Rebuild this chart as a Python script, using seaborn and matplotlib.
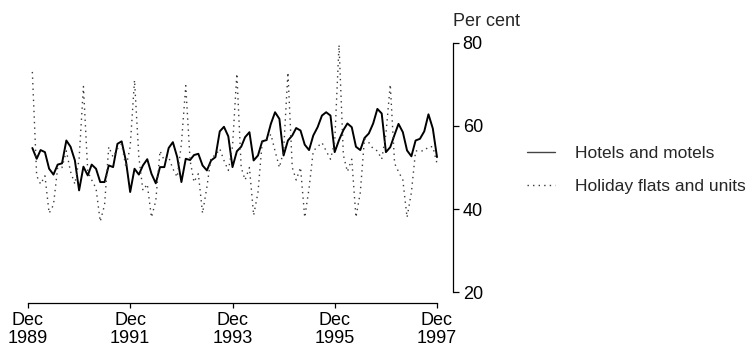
import pandas as pd
import numpy as np

import matplotlib
matplotlib.use("Agg")
import matplotlib.pyplot as plt
import matplotlib.dates as mdates
import seaborn as sns

# --------------------------------
# DATA (monthly, Jan 1990 - Dec 1997)
# --------------------------------
months = pd.date_range("1990-01-01", "1997-12-01", freq="MS")

hotels = [
    54.7, 52.1, 54.2, 53.7, 49.7, 48.3, 50.7, 51.0, 56.5, 55.0, 51.7, 44.5,
    50.2, 48.1, 50.7, 49.7, 46.5, 46.5, 50.5, 50.1, 55.7, 56.3, 51.5, 44.1,
    49.7, 48.3, 50.5, 52.0, 48.5, 46.2, 50.1, 50.1, 54.7, 56.1, 52.5, 46.5,
    52.1, 51.8, 53.0, 53.3, 50.5, 49.3, 51.7, 52.5, 58.7, 59.8, 57.5, 50.1,
    53.9, 55.0, 57.3, 58.5, 51.7, 52.9, 56.3, 56.6, 60.5, 63.3, 61.7, 52.9,
    56.5, 57.7, 59.5, 58.9, 55.5, 54.2, 57.7, 59.7, 62.5, 63.3, 62.5, 53.7,
    56.6, 59.0, 60.6, 59.7, 55.0, 54.2, 57.1, 58.2, 60.6, 64.1, 63.0, 53.7,
    54.9, 57.9, 60.5, 58.5, 54.1, 52.7, 56.5, 56.9, 58.7, 62.8, 59.4, 52.5,
]

holiday_flats = [
    73.0, 48.0, 46.0, 48.0, 39.0, 41.0, 50.0, 50.0, 54.0, 49.0, 46.0, 52.0,
    69.5, 49.0, 47.0, 45.0, 37.0, 41.0, 55.0, 52.5, 54.5, 55.7, 50.0, 55.0,
    71.0, 52.5, 44.5, 46.0, 38.0, 42.0, 54.0, 51.7, 52.5, 49.7, 47.7, 55.7,
    69.7, 51.7, 46.5, 48.5, 39.0, 45.3, 52.5, 52.9, 54.5, 51.7, 49.3, 55.0,
    72.6, 50.0, 47.0, 50.0, 38.5, 44.0, 56.0, 56.5, 58.0, 54.0, 50.0, 54.0,
    72.9, 50.0, 47.0, 50.0, 38.0, 45.0, 54.0, 55.0, 56.0, 54.0, 52.0, 56.0,
    79.5, 53.0, 49.0, 52.0, 38.0, 44.0, 57.0, 56.0, 54.5, 54.0, 52.0, 58.0,
    70.0, 51.0, 49.0, 47.0, 38.0, 44.0, 54.0, 54.0, 54.0, 55.0, 55.0, 51.0,
]

series_names = ["Hotels and motels", "Holiday flats and units"]

tick_dates = pd.to_datetime(
    ["1989-12-01", "1991-12-01", "1993-12-01", "1995-12-01", "1997-12-01"]
)
tick_labels = [
    "Dec\n1989", "Dec\n1991", "Dec\n1993", "Dec\n1995", "Dec\n1997"
]
y_ticks = [20, 40, 60, 80]

df = pd.DataFrame({
    "month": list(months) * 2,
    "value": hotels + holiday_flats,
    "series": [series_names[0]] * len(months) + [series_names[1]] * len(months),
})

# --------------------------------
# STYLE
# --------------------------------
sns.set_style("ticks")
plt.rcParams["font.family"] = ["Liberation Sans", "DejaVu Sans"]
plt.rcParams["font.size"] = 13

fig = plt.figure(figsize=(7.56, 3.5), dpi=100)

ax = fig.add_axes([28 / 756, 47 / 350, 425 / 756, 261 / 350])

sns.lineplot(
    data=df,
    x="month",
    y="value",
    hue="series",
    style="series",
    palette={series_names[0]: "black", series_names[1]: "#3a3a3a"},
    dashes={series_names[0]: "", series_names[1]: (1, 3)},
    size="series",
    sizes={series_names[0]: 1.4, series_names[1]: 1.0},
    ax=ax,
)

# --------------------------------
# AXES
# --------------------------------
x_start = mdates.date2num(pd.Timestamp("1989-12-01"))
x_last = mdates.date2num(pd.Timestamp("1997-12-01"))
x_end = x_start + (x_last - x_start) * (425 / 409)
ax.set_xlim(x_start, x_end)
ax.set_ylim(17.4, 80.2)

ax.yaxis.tick_right()
ax.set_yticks(y_ticks)
ax.set_yticklabels([str(v) for v in y_ticks])

tick_nums = mdates.date2num(tick_dates)
ax.set_xticks(tick_nums)
ax.set_xticklabels(tick_labels, linespacing=1.05)

ax.tick_params(axis="y", direction="out", length=4, width=0.9, pad=3,
               labelsize=13, colors="black")
ax.tick_params(axis="x", direction="out", length=3.5, width=0.9, pad=3,
               labelsize=13, colors="black")

for side in ["left", "top"]:
    ax.spines[side].set_visible(False)
ax.spines["right"].set_bounds(20, 80)
ax.spines["bottom"].set_bounds(tick_nums[0], tick_nums[-1])
for side in ["right", "bottom"]:
    ax.spines[side].set_linewidth(0.9)
    ax.spines[side].set_color("black")

ax.set_xlabel("")
ax.set_ylabel("")

fig.text(453 / 756, (350 - 22) / 350, "Per cent", ha="left", va="center",
         fontsize=13)

# --------------------------------
# LEGEND
# --------------------------------
handles, labels = ax.get_legend_handles_labels()
ax.get_legend().remove()
keep = [(h, l) for h, l in zip(handles, labels) if l in series_names]
leg = fig.legend(
    [h for h, _ in keep],
    [l for _, l in keep],
    loc="center left",
    bbox_to_anchor=(527 / 756, (350 - 170) / 350),
    frameon=False,
    borderpad=0,
    borderaxespad=0,
    handlelength=1.6,
    handletextpad=1.15,
    labelspacing=1.0,
    fontsize=12.5,
)
leg.get_lines()[0].set_linewidth(1.0)
leg.get_lines()[0].set_color("#444444")

fig.savefig("out.png", dpi=100)
